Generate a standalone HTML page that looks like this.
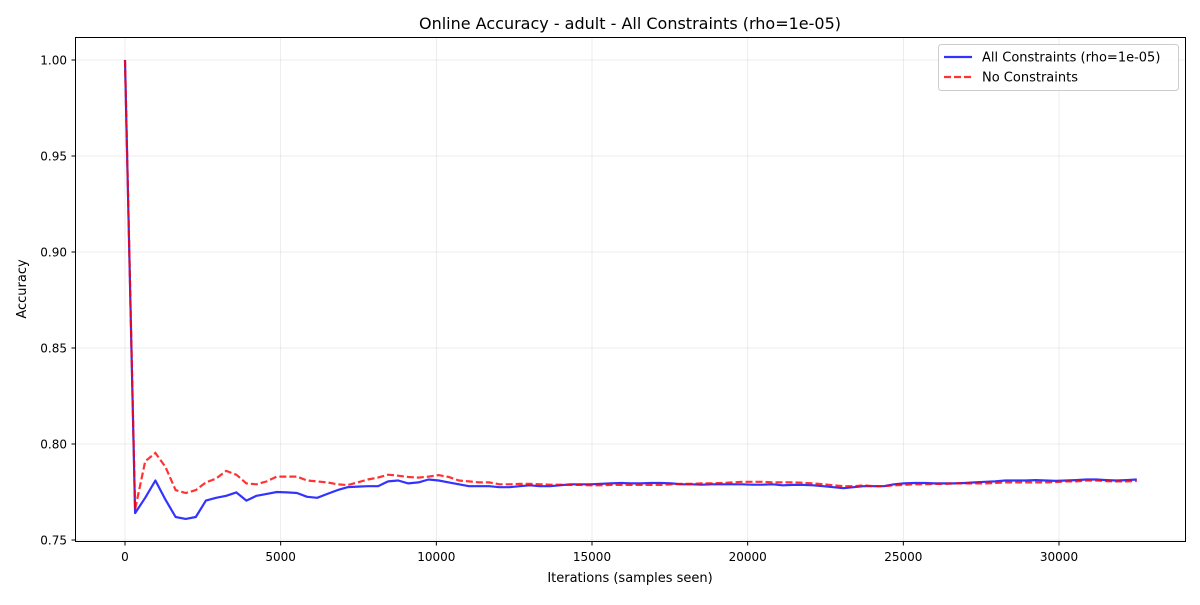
<!DOCTYPE html>
<html><head><meta charset="utf-8"><style>
body{margin:0;background:#fff;font-family:"Liberation Sans","DejaVu Sans",sans-serif;}
svg text{font-family:"DejaVu Sans","Liberation Sans",sans-serif;fill:#000;}
</style></head><body>
<svg id="chart" width="1200" height="600" xmlns="http://www.w3.org/2000/svg">
<rect width="1200" height="600" fill="#fff"/>
<text x="630" y="29" font-size="16" text-anchor="middle">Online Accuracy - adult - All Constraints (rho=1e-05)</text>
<g id="grid"></g>
<g id="series"></g>
<rect x="75.5" y="37.5" width="1110" height="504" fill="none" stroke="#000" stroke-width="1"/>
<g id="ticks"></g>
<text x="630" y="582" font-size="13" text-anchor="middle">Iterations (samples seen)</text>
<text x="26" y="289" font-size="13" text-anchor="middle" transform="rotate(-90 26 289)">Accuracy</text>
<g>
<rect x="938.5" y="44.5" width="240" height="46" rx="3" fill="#fff" fill-opacity="0.8" stroke="#ccc"/>
<line x1="944" y1="57" x2="972" y2="57" stroke="#0000ff" stroke-opacity="0.8" stroke-width="2.2"/>
<text x="982" y="61.5" font-size="13">All Constraints (rho=1e-05)</text>
<line x1="944" y1="77" x2="972" y2="77" stroke="#ff0000" stroke-opacity="0.8" stroke-width="2.2" stroke-dasharray="7,3"/>
<text x="982" y="81.5" font-size="13">No Constraints</text>
</g>
</svg>
<script>
const xTicks=[0,5000,10000,15000,20000,25000,30000];
const yTicks=[0.75,0.80,0.85,0.90,0.95,1.00];
const step=325;
const allConstraints=[1.0,0.764,0.772,0.781,0.771,0.762,0.761,0.762,0.7705,0.772,0.773,0.7748,0.7705,0.773,0.774,0.775,0.7748,0.7745,0.7725,0.772,0.774,0.776,0.7775,0.7778,0.778,0.778,0.7805,0.781,0.7795,0.780,0.7815,0.781,0.780,0.779,0.778,0.778,0.778,0.7775,
0.7775,0.778,0.7785,0.778,0.778,0.7785,0.779,0.779,
0.779,0.7792,0.7795,0.7797,0.7795,0.7795,0.7797,0.7797,0.7795,0.779,
0.779,0.7788,0.779,0.779,0.779,0.779,0.7788,0.7788,0.779,0.7785,
0.7787,0.7787,0.7785,0.778,0.7775,0.777,0.7775,0.778,0.778,0.778,
0.779,0.7795,0.7797,0.7797,0.7795,0.7795,0.7795,0.7797,0.780,0.7803,
0.7805,0.781,0.781,0.781,0.7812,0.781,0.7808,0.781,0.7812,0.7815,
0.7815,0.7812,0.781,0.7812,0.7815];
const noConstraints=[1.0,0.766,0.791,0.7953,0.788,0.776,0.7745,0.776,0.780,0.782,0.786,0.784,0.7795,0.779,0.7805,0.783,0.783,0.783,0.781,0.7805,0.780,0.779,0.7786,0.780,0.7815,0.7825,0.784,0.7835,0.7828,0.7825,0.783,0.7838,0.7828,0.781,0.7805,0.780,0.780,0.779,
0.779,0.7792,0.7792,0.779,0.7788,0.7788,0.7787,0.7787,
0.7785,0.7785,0.7787,0.7787,0.7787,0.7787,0.7787,0.7787,0.779,0.7792,
0.7792,0.7795,0.7795,0.7797,0.780,0.7803,0.7803,0.7803,0.780,0.780,
0.780,0.7798,0.7795,0.779,0.7785,0.778,0.778,0.7785,0.778,0.778,
0.7785,0.7787,0.779,0.779,0.7792,0.7792,0.7795,0.7795,0.7795,0.7795,
0.7797,0.780,0.780,0.780,0.780,0.780,0.7802,0.7805,0.7805,0.781,
0.781,0.7807,0.7805,0.7805,0.7808];
const NS='http://www.w3.org/2000/svg';
function xs(v){return 125+v*(934/30000);}
function ys(v){return 60+(1-v)*1920;}
function mk(tag,attrs,parent){const e=document.createElementNS(NS,tag);for(const k in attrs)e.setAttribute(k,attrs[k]);parent.appendChild(e);return e;}
const grid=document.getElementById('grid'),ticks=document.getElementById('ticks'),series=document.getElementById('series');
xTicks.forEach(t=>{const x=xs(t);
 const g=mk('line',{x1:x,x2:x,y1:37.5,y2:541.5,stroke:'#b0b0b0','stroke-opacity':0.3,'stroke-width':0.8},grid);
 
 
 mk('line',{x1:x,x2:x,y1:541.5,y2:545.5,stroke:'#000'},ticks);
 const tx=mk('text',{x:x,y:561,'font-size':12,'text-anchor':'middle'},ticks);tx.textContent=String(t);
 
 
});
yTicks.forEach(t=>{const y=ys(t);
 const g=mk('line',{x1:75.5,x2:1185.5,y1:y,y2:y,stroke:'#b0b0b0','stroke-opacity':0.3,'stroke-width':0.8},grid);
 
 
 mk('line',{x1:71.5,x2:75.5,y1:y,y2:y,stroke:'#000'},ticks);
 const tx=mk('text',{x:67,y:y+4.5,'font-size':12,'text-anchor':'end'},ticks);tx.textContent=t.toFixed(2);
 
 
});
function pts(arr){return arr.map((v,i)=>xs(i*step).toFixed(1)+','+ys(v).toFixed(1)).join(' ');}
const l1=mk('polyline',{points:pts(allConstraints),fill:'none',stroke:'#0000ff','stroke-opacity':0.8,'stroke-width':2.2,'stroke-linejoin':'round'},series);


const l2=mk('polyline',{points:pts(noConstraints),fill:'none',stroke:'#ff0000','stroke-opacity':0.8,'stroke-width':2.2,'stroke-dasharray':'7,3'},series);


</script>
</body></html>
